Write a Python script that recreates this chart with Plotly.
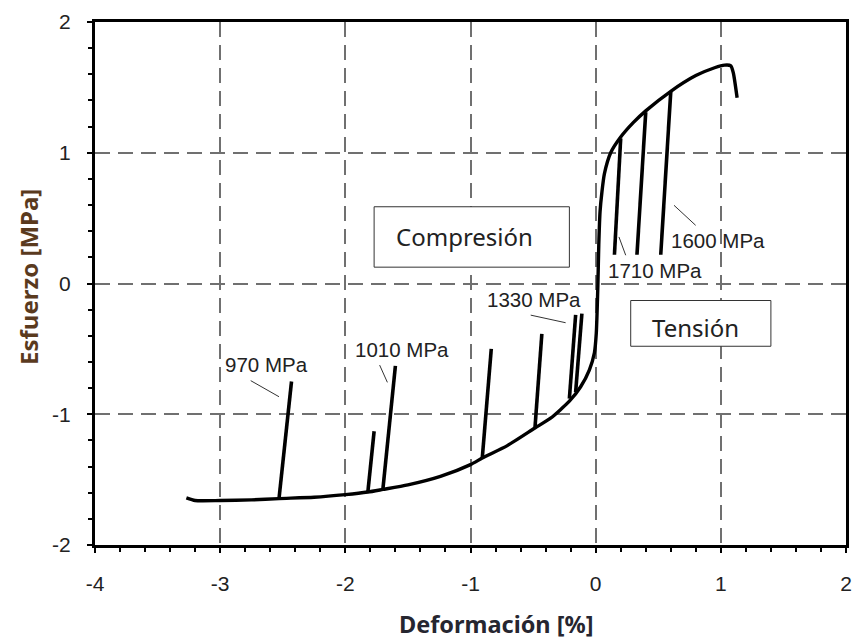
import plotly.graph_objects as go

# Envelope (monotonic loading) curve
env_x = [-3.27, -3.2, -3.0, -2.75, -2.53, -2.25, -2.0, -1.82, -1.70, -1.5, -1.24, -1.0, -0.906,
         -0.706, -0.485, -0.36, -0.21, -0.12, -0.05, -0.01, 0.005, 0.012, 0.018, 0.025, 0.035,
         0.05, 0.07, 0.12, 0.2, 0.3, 0.4, 0.6, 0.8, 0.95, 1.03, 1.08, 1.1, 1.13]
env_y = [-1.64, -1.66, -1.66, -1.655, -1.645, -1.635, -1.615, -1.595, -1.575, -1.54, -1.475, -1.385, -1.335,
         -1.24, -1.105, -1.03, -0.90, -0.79, -0.66, -0.53, -0.38, -0.2, 0.0, 0.3, 0.55,
         0.7, 0.84, 1.0, 1.12, 1.23, 1.32, 1.47, 1.59, 1.65, 1.67, 1.665, 1.61, 1.42]

# Unloading branches: (x_top, y_top, x_bottom, y_bottom)
unl_x_top = [-2.43, -1.77, -1.60, -0.834, -0.43, -0.16, -0.11, 0.20, 0.40, 0.60]
unl_y_top = [-0.75, -1.13, -0.63, -0.50, -0.385, -0.24, -0.23, 1.11, 1.31, 1.47]
unl_x_bot = [-2.53, -1.82, -1.70, -0.906, -0.485, -0.21, -0.16, 0.15, 0.33, 0.52]
unl_y_bot = [-1.645, -1.595, -1.575, -1.335, -1.105, -0.88, -0.83, 0.22, 0.22, 0.22]

# Stress labels and leader lines
lbl_text = ["970 MPa", "1010 MPa", "1330 MPa", "1710 MPa", "1600 MPa"]
lbl_x = [-2.63, -1.55, -0.49, 0.47, 0.975]
lbl_y = [-0.62, -0.505, -0.12, 0.10, 0.33]
lead_x0 = [-2.756, -1.726, -0.519, 0.186, 0.626]
lead_y0 = [-0.743, -0.624, -0.242, 0.356, 0.598]
lead_x1 = [-2.53, -1.664, -0.24, 0.24, 0.799]
lead_y1 = [-0.866, -0.756, -0.30, 0.216, 0.445]

x_ticks = [-4, -3, -2, -1, 0, 1, 2]
y_ticks = [-2, -1, 0, 1, 2]

fig = go.Figure()

fig.add_trace(go.Scatter(x=env_x, y=env_y, mode="lines",
                         line=dict(color="black", width=3.4, shape="spline", smoothing=0.6),
                         hoverinfo="skip", showlegend=False))

ux, uy = [], []
for a, b, c, d in zip(unl_x_top, unl_y_top, unl_x_bot, unl_y_bot):
    ux += [a, c, None]
    uy += [b, d, None]
fig.add_trace(go.Scatter(x=ux, y=uy, mode="lines", line=dict(color="black", width=3.6),
                         hoverinfo="skip", showlegend=False))

lx, ly = [], []
for a, b, c, d in zip(lead_x0, lead_y0, lead_x1, lead_y1):
    lx += [a, c, None]
    ly += [b, d, None]
fig.add_trace(go.Scatter(x=lx, y=ly, mode="lines", line=dict(color="#333333", width=1),
                         hoverinfo="skip", showlegend=False))

for t, x, y in zip(lbl_text, lbl_x, lbl_y):
    fig.add_annotation(x=x, y=y, text=t, showarrow=False,
                       font=dict(family="Liberation Sans", size=20.5, color="#222222"))

# Text boxes
fig.add_shape(type="rect", x0=-1.77, x1=-0.21, y0=0.125, y1=0.587,
              line=dict(color="#333333", width=1), fillcolor="white", layer="above")
fig.add_annotation(x=-1.05, y=0.36, text="Compresión", showarrow=False,
                   font=dict(family="Noto Sans", size=24, color="#222222"))
fig.add_shape(type="rect", x0=0.28, x1=1.40, y0=-0.48, y1=-0.13,
              line=dict(color="#333333", width=1), fillcolor="white", layer="above")
fig.add_annotation(x=0.80, y=-0.335, text="Tensión", showarrow=False,
                   font=dict(family="Noto Sans", size=24, color="#222222"))

# Axis titles
fig.add_annotation(xref="paper", yref="paper", x=(28 - 95) / 751, y=(545 - 277) / 523,
                   xanchor="center", yanchor="middle",
                   text="<b>Esfuerzo [MPa]</b>", textangle=-90, showarrow=False,
                   font=dict(family="Noto Sans", size=24, color="#5a3a1e"))
fig.add_annotation(xref="paper", yref="paper", x=(496 - 95) / 751, y=(545 - 624) / 523,
                   xanchor="center", yanchor="middle",
                   text="<b>Deformación [%]</b>", showarrow=False,
                   font=dict(family="Noto Sans", size=23.5, color="#262630"))

axis_common = dict(showline=True, linewidth=3, linecolor="black", mirror=True,
                   ticks="outside", ticklen=5, tickwidth=1.5, tickcolor="black",
                   showgrid=True, gridcolor="#707070", gridwidth=1.5, griddash="15px,8px",
                   zeroline=False,
                   tickfont=dict(family="Liberation Sans", size=21, color="#222222"),
                   minor=dict(dtick=0.2, ticks="outside", ticklen=4, tickwidth=1.5,
                              tickcolor="black", showgrid=False))

fig.update_xaxes(range=[-4, 2], tickvals=x_ticks, ticktext=[str(v) for v in x_ticks],
                 ticklabelstandoff=13, **axis_common)
fig.update_yaxes(range=[-2, 2], tickvals=y_ticks, ticktext=[str(v) for v in y_ticks],
                 ticklabelstandoff=12, **axis_common)

fig.update_layout(width=853, height=642, margin=dict(l=95, r=7, t=22, b=97, autoexpand=False),
                  plot_bgcolor="white", paper_bgcolor="white", showlegend=False)

fig.write_html("out.html")
